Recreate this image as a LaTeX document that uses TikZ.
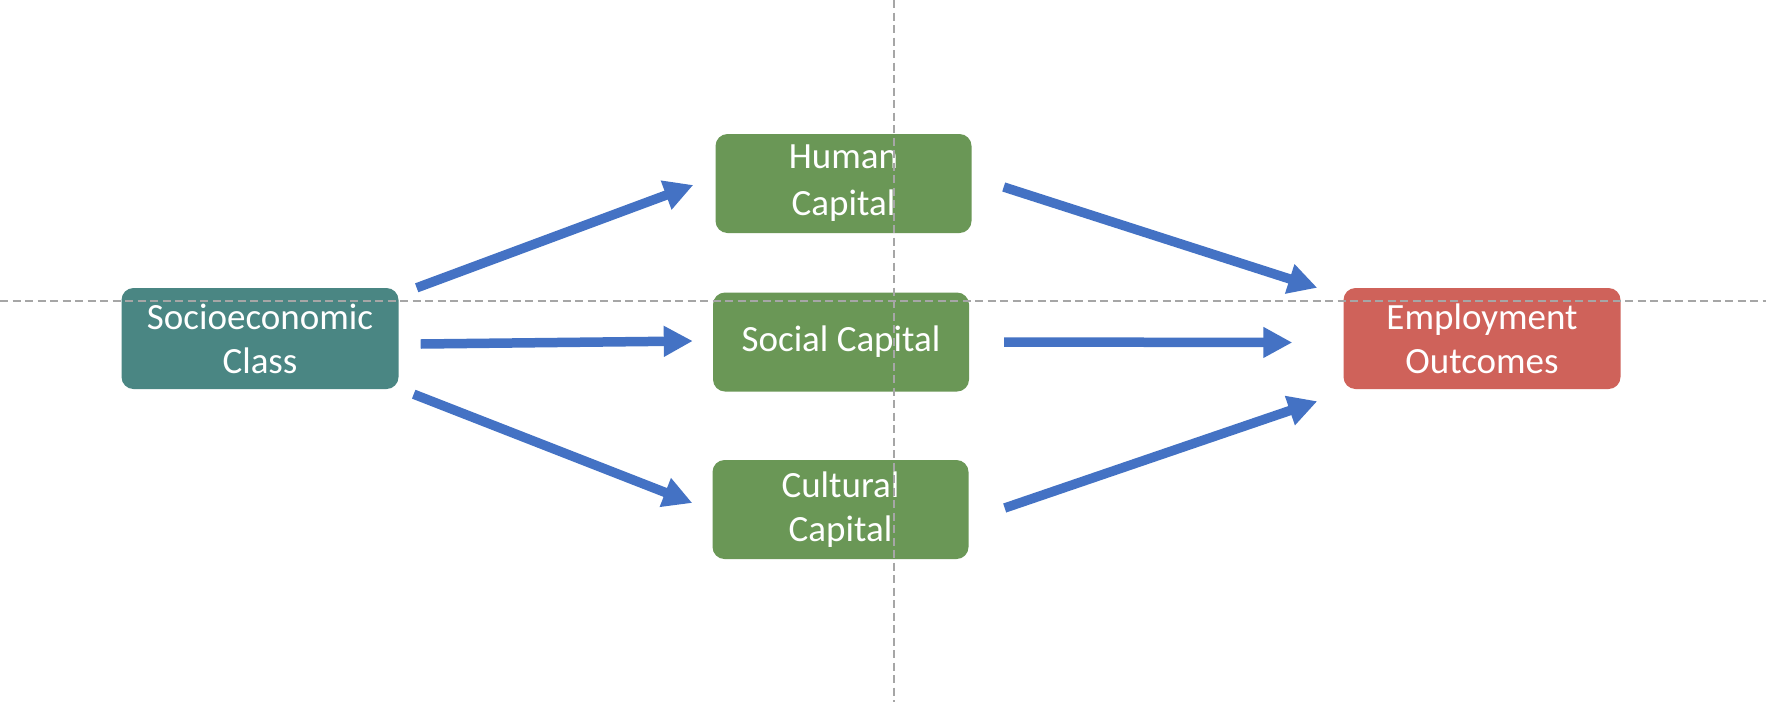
\documentclass[tikz,border=0pt]{standalone}
\usepackage{fontspec}
\setmainfont{Carlito}
\usetikzlibrary{arrows.meta}
\definecolor{tealbox}{RGB}{74,134,131}
\definecolor{greenbox}{RGB}{106,151,86}
\definecolor{redbox}{RGB}{207,98,90}
\definecolor{arrowblue}{RGB}{68,114,196}
\definecolor{guidegray}{RGB}{166,166,166}
\tikzset{
  box/.style={rounded corners=12pt, inner sep=0pt, text=white, align=center,
    font=\fontsize{37}{44}\selectfont},
  bigbox/.style={box, minimum width=277pt, minimum height=101pt},
  greenbx/.style={box, fill=greenbox, minimum width=256pt, minimum height=99pt},
  flow/.style={draw=arrowblue, line width=9.5pt, -{Triangle[length=29pt,width=29pt]}},
  guide/.style={draw=guidegray, line width=2pt, dash pattern=on 8pt off 4.5pt}
}
\begin{document}
\begin{tikzpicture}[x=1pt,y=-1pt]
\useasboundingbox (0,0) rectangle (1766,702);
\fill[white] (0,0) rectangle (1766,702);
\node[bigbox, fill=tealbox] (soc) at (260,338.5) {Socioeconomic\\Class};
\node[greenbx, font=\fontsize{37}{47}\selectfont] (hum) at (843.5,183.5) {Human\\Capital};
\node[greenbx] (scc) at (841,342) {Social Capital};
\node[greenbx] (cul) at (840.5,509.5) {Cultural\\Capital};
\node[bigbox, fill=redbox] (emp) at (1482,338.5) {Employment\\Outcomes};
\draw[flow] ([xshift=18pt]soc.north east) -- ([xshift=-22pt,yshift=-1.5pt]hum.west);
\draw[flow] ([xshift=22pt,yshift=-5.5pt]soc.east) -- ([xshift=-20pt,yshift=1pt]scc.west);
\draw[flow] ([xshift=15pt,yshift=-5pt]soc.south east) -- ([xshift=-20pt,yshift=6.5pt]cul.west);
\draw[flow] ([xshift=32pt,yshift=-3.5pt]hum.east) -- ([xshift=-26pt]emp.north west);
\draw[flow] ([xshift=35pt]scc.east) -- ([xshift=-51pt,yshift=-4pt]emp.west);
\draw[flow] ([xshift=36pt,yshift=1.5pt]cul.east) -- ([xshift=-26pt,yshift=-12pt]emp.south west);
\coordinate (hl) at (0,301);
\coordinate (hr) at (1766,301);
\coordinate (vt) at (894,0);
\coordinate (vb) at (894,702);
\draw[guide] (hl) -- (hr);
\draw[guide] (vt) -- (vb);
\end{tikzpicture}
\end{document}
